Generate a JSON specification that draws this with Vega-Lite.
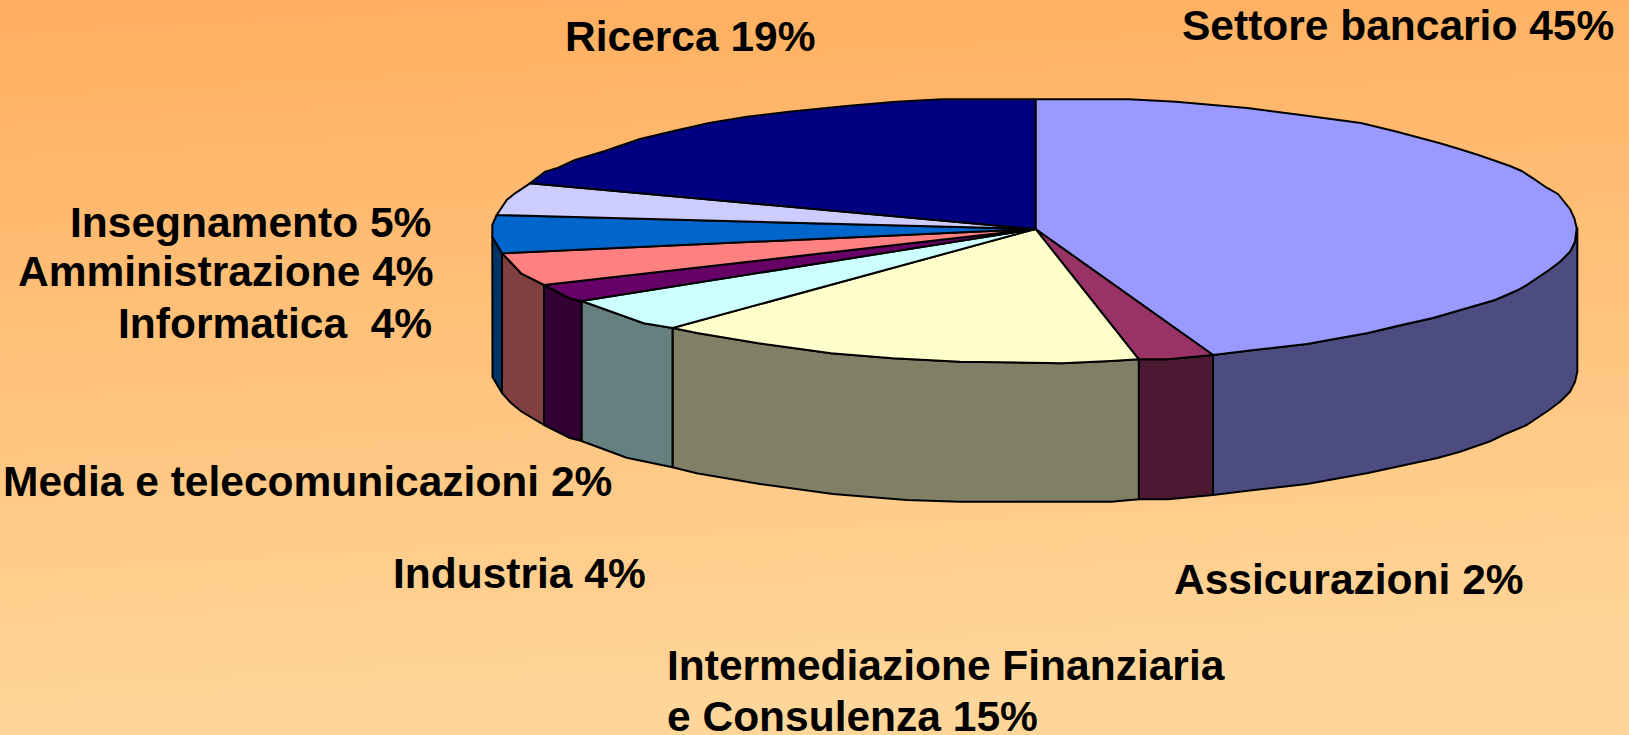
{"$schema":"https://vega.github.io/schema/vega-lite/v6.json","width":1629,"height":735,"padding":0,"autosize":{"type":"none"},"background":"#FFC27F","view":{"stroke":null,"fill":{"gradient":"linear","x1":0,"y1":0,"x2":0.12,"y2":1,"stops":[{"offset":0,"color":"#FFAE5E"},{"offset":1,"color":"#FFD699"}]}},
"datasets":{"walls":[
{"part":"Settore bancario lato","seq":1,"x":1213,"y":355},{"part":"Settore bancario lato","seq":2,"x":1254,"y":350},{"part":"Settore bancario lato","seq":3,"x":1307,"y":344},{"part":"Settore bancario lato","seq":4,"x":1368,"y":333},{"part":"Settore bancario lato","seq":5,"x":1433,"y":318},{"part":"Settore bancario lato","seq":6,"x":1495,"y":300},{"part":"Settore bancario lato","seq":7,"x":1518,"y":290},{"part":"Settore bancario lato","seq":8,"x":1526.7,"y":285},{"part":"Settore bancario lato","seq":9,"x":1549,"y":270},{"part":"Settore bancario lato","seq":10,"x":1560,"y":261.7},{"part":"Settore bancario lato","seq":11,"x":1570,"y":251.7},{"part":"Settore bancario lato","seq":12,"x":1575,"y":241.7},{"part":"Settore bancario lato","seq":13,"x":1577.3,"y":228.3},{"part":"Settore bancario lato","seq":14,"x":1577.3,"y":371.7},{"part":"Settore bancario lato","seq":15,"x":1575,"y":381.7},{"part":"Settore bancario lato","seq":16,"x":1570,"y":391.7},{"part":"Settore bancario lato","seq":17,"x":1560,"y":401.7},{"part":"Settore bancario lato","seq":18,"x":1549,"y":410},{"part":"Settore bancario lato","seq":19,"x":1526.7,"y":425},{"part":"Settore bancario lato","seq":20,"x":1503,"y":435},{"part":"Settore bancario lato","seq":21,"x":1491.7,"y":440.7},{"part":"Settore bancario lato","seq":22,"x":1460,"y":451.7},{"part":"Settore bancario lato","seq":23,"x":1437.5,"y":458},{"part":"Settore bancario lato","seq":24,"x":1368,"y":473},{"part":"Settore bancario lato","seq":25,"x":1307,"y":484},{"part":"Settore bancario lato","seq":26,"x":1254,"y":490},{"part":"Settore bancario lato","seq":27,"x":1213,"y":495},{"part":"Settore bancario lato","seq":28,"x":1213,"y":355},
{"part":"Assicurazioni lato","seq":1,"x":1138.8,"y":359.3},{"part":"Assicurazioni lato","seq":2,"x":1168,"y":359.3},{"part":"Assicurazioni lato","seq":3,"x":1213,"y":355},{"part":"Assicurazioni lato","seq":4,"x":1213,"y":495},{"part":"Assicurazioni lato","seq":5,"x":1168,"y":499.3},{"part":"Assicurazioni lato","seq":6,"x":1138.8,"y":499.3},{"part":"Assicurazioni lato","seq":7,"x":1138.8,"y":359.3},
{"part":"Intermediazione lato","seq":1,"x":672.5,"y":328},{"part":"Intermediazione lato","seq":2,"x":697,"y":333},{"part":"Intermediazione lato","seq":3,"x":758.5,"y":343.3},{"part":"Intermediazione lato","seq":4,"x":831,"y":353.3},{"part":"Intermediazione lato","seq":5,"x":892.5,"y":358.3},{"part":"Intermediazione lato","seq":6,"x":960,"y":361.7},{"part":"Intermediazione lato","seq":7,"x":1001,"y":362.3},{"part":"Intermediazione lato","seq":8,"x":1062,"y":363.3},{"part":"Intermediazione lato","seq":9,"x":1111,"y":361},{"part":"Intermediazione lato","seq":10,"x":1138.8,"y":359.3},{"part":"Intermediazione lato","seq":11,"x":1138.8,"y":499.3},{"part":"Intermediazione lato","seq":12,"x":1111,"y":501.7},{"part":"Intermediazione lato","seq":13,"x":960,"y":501.7},{"part":"Intermediazione lato","seq":14,"x":906.7,"y":500},{"part":"Intermediazione lato","seq":15,"x":833,"y":494},{"part":"Intermediazione lato","seq":16,"x":760,"y":484},{"part":"Intermediazione lato","seq":17,"x":696.7,"y":473.3},{"part":"Intermediazione lato","seq":18,"x":672.5,"y":467.3},{"part":"Intermediazione lato","seq":19,"x":672.5,"y":328},
{"part":"Industria lato","seq":1,"x":581.5,"y":301},{"part":"Industria lato","seq":2,"x":627,"y":317.3},{"part":"Industria lato","seq":3,"x":643.7,"y":323.3},{"part":"Industria lato","seq":4,"x":672.5,"y":328},{"part":"Industria lato","seq":5,"x":672.5,"y":467.3},{"part":"Industria lato","seq":6,"x":626.7,"y":457.7},{"part":"Industria lato","seq":7,"x":581.5,"y":441},{"part":"Industria lato","seq":8,"x":581.5,"y":301},
{"part":"Media lato","seq":1,"x":544,"y":285},{"part":"Media lato","seq":2,"x":571,"y":299},{"part":"Media lato","seq":3,"x":581.5,"y":301},{"part":"Media lato","seq":4,"x":581.5,"y":441},{"part":"Media lato","seq":5,"x":570,"y":438},{"part":"Media lato","seq":6,"x":544,"y":425},{"part":"Media lato","seq":7,"x":544,"y":285},
{"part":"Informatica lato","seq":1,"x":502,"y":253.3},{"part":"Informatica lato","seq":2,"x":511.7,"y":263.3},{"part":"Informatica lato","seq":3,"x":521,"y":273.3},{"part":"Informatica lato","seq":4,"x":544,"y":285},{"part":"Informatica lato","seq":5,"x":544,"y":425},{"part":"Informatica lato","seq":6,"x":521.7,"y":411.7},{"part":"Informatica lato","seq":7,"x":511,"y":403},{"part":"Informatica lato","seq":8,"x":502,"y":393},{"part":"Informatica lato","seq":9,"x":502,"y":253.3},
{"part":"Amministrazione lato","seq":1,"x":492.3,"y":236.7},{"part":"Amministrazione lato","seq":2,"x":502,"y":253.3},{"part":"Amministrazione lato","seq":3,"x":502,"y":393},{"part":"Amministrazione lato","seq":4,"x":492.5,"y":377},{"part":"Amministrazione lato","seq":5,"x":492.3,"y":236.7}
],
"tops":[
{"part":"Settore bancario","seq":1,"x":1035.5,"y":229},{"part":"Settore bancario","seq":2,"x":1035.5,"y":99.3},{"part":"Settore bancario","seq":3,"x":1129,"y":99.3},{"part":"Settore bancario","seq":4,"x":1176,"y":101.7},{"part":"Settore bancario","seq":5,"x":1247,"y":108},{"part":"Settore bancario","seq":6,"x":1301,"y":115},{"part":"Settore bancario","seq":7,"x":1361,"y":123},{"part":"Settore bancario","seq":8,"x":1397,"y":131.7},{"part":"Settore bancario","seq":9,"x":1440,"y":143.3},{"part":"Settore bancario","seq":10,"x":1460,"y":149.3},{"part":"Settore bancario","seq":11,"x":1478.3,"y":155},{"part":"Settore bancario","seq":12,"x":1490,"y":159},{"part":"Settore bancario","seq":13,"x":1510,"y":166},{"part":"Settore bancario","seq":14,"x":1521.7,"y":171},{"part":"Settore bancario","seq":15,"x":1533,"y":178.3},{"part":"Settore bancario","seq":16,"x":1546.7,"y":187.7},{"part":"Settore bancario","seq":17,"x":1558,"y":194},{"part":"Settore bancario","seq":18,"x":1570,"y":209},{"part":"Settore bancario","seq":19,"x":1574.3,"y":218.3},{"part":"Settore bancario","seq":20,"x":1576.7,"y":228.3},{"part":"Settore bancario","seq":21,"x":1575,"y":241.7},{"part":"Settore bancario","seq":22,"x":1570,"y":251.7},{"part":"Settore bancario","seq":23,"x":1560,"y":261.7},{"part":"Settore bancario","seq":24,"x":1549,"y":270},{"part":"Settore bancario","seq":25,"x":1526.7,"y":285},{"part":"Settore bancario","seq":26,"x":1518,"y":290},{"part":"Settore bancario","seq":27,"x":1495,"y":300},{"part":"Settore bancario","seq":28,"x":1433,"y":318},{"part":"Settore bancario","seq":29,"x":1397,"y":326},{"part":"Settore bancario","seq":30,"x":1368,"y":333},{"part":"Settore bancario","seq":31,"x":1329,"y":340},{"part":"Settore bancario","seq":32,"x":1307,"y":344},{"part":"Settore bancario","seq":33,"x":1254,"y":350},{"part":"Settore bancario","seq":34,"x":1213,"y":355},{"part":"Settore bancario","seq":35,"x":1035.5,"y":229},
{"part":"Assicurazioni","seq":1,"x":1035.5,"y":229},{"part":"Assicurazioni","seq":2,"x":1213,"y":355},{"part":"Assicurazioni","seq":3,"x":1168,"y":359.3},{"part":"Assicurazioni","seq":4,"x":1138.8,"y":359.3},{"part":"Assicurazioni","seq":5,"x":1035.5,"y":229},
{"part":"Intermediazione","seq":1,"x":1035.5,"y":229},{"part":"Intermediazione","seq":2,"x":1138.8,"y":359.3},{"part":"Intermediazione","seq":3,"x":1111,"y":361},{"part":"Intermediazione","seq":4,"x":1062,"y":363.3},{"part":"Intermediazione","seq":5,"x":1001,"y":362.3},{"part":"Intermediazione","seq":6,"x":960,"y":361.7},{"part":"Intermediazione","seq":7,"x":892.5,"y":358.3},{"part":"Intermediazione","seq":8,"x":831,"y":353.3},{"part":"Intermediazione","seq":9,"x":758.5,"y":343.3},{"part":"Intermediazione","seq":10,"x":697,"y":333},{"part":"Intermediazione","seq":11,"x":672.5,"y":328},{"part":"Intermediazione","seq":12,"x":1035.5,"y":229},
{"part":"Industria","seq":1,"x":1035.5,"y":229},{"part":"Industria","seq":2,"x":672.5,"y":328},{"part":"Industria","seq":3,"x":643.7,"y":323.3},{"part":"Industria","seq":4,"x":627,"y":317.3},{"part":"Industria","seq":5,"x":581.5,"y":301},{"part":"Industria","seq":6,"x":1035.5,"y":229},
{"part":"Media","seq":1,"x":1035.5,"y":229},{"part":"Media","seq":2,"x":581.5,"y":301},{"part":"Media","seq":3,"x":571,"y":299},{"part":"Media","seq":4,"x":544,"y":285},{"part":"Media","seq":5,"x":1035.5,"y":229},
{"part":"Informatica","seq":1,"x":1035.5,"y":229},{"part":"Informatica","seq":2,"x":544,"y":285},{"part":"Informatica","seq":3,"x":521,"y":273.3},{"part":"Informatica","seq":4,"x":511.7,"y":263.3},{"part":"Informatica","seq":5,"x":502,"y":253.3},{"part":"Informatica","seq":6,"x":1035.5,"y":229},
{"part":"Amministrazione","seq":1,"x":1035.5,"y":229},{"part":"Amministrazione","seq":2,"x":502,"y":253.3},{"part":"Amministrazione","seq":3,"x":492.3,"y":236.7},{"part":"Amministrazione","seq":4,"x":492.3,"y":225},{"part":"Amministrazione","seq":5,"x":496.7,"y":215},{"part":"Amministrazione","seq":6,"x":1035.5,"y":229},
{"part":"Insegnamento","seq":1,"x":1035.5,"y":229},{"part":"Insegnamento","seq":2,"x":496.7,"y":215},{"part":"Insegnamento","seq":3,"x":506.7,"y":200},{"part":"Insegnamento","seq":4,"x":515,"y":193.3},{"part":"Insegnamento","seq":5,"x":530,"y":183.3},{"part":"Insegnamento","seq":6,"x":1035.5,"y":229},
{"part":"Ricerca","seq":1,"x":1035.5,"y":229},{"part":"Ricerca","seq":2,"x":530,"y":183.3},{"part":"Ricerca","seq":3,"x":545,"y":171.7},{"part":"Ricerca","seq":4,"x":556.7,"y":168.3},{"part":"Ricerca","seq":5,"x":575,"y":160},{"part":"Ricerca","seq":6,"x":605,"y":151},{"part":"Ricerca","seq":7,"x":640,"y":139},{"part":"Ricerca","seq":8,"x":670.5,"y":131.7},{"part":"Ricerca","seq":9,"x":709,"y":123},{"part":"Ricerca","seq":10,"x":747,"y":116.7},{"part":"Ricerca","seq":11,"x":789,"y":111.7},{"part":"Ricerca","seq":12,"x":846.5,"y":106},{"part":"Ricerca","seq":13,"x":896,"y":101.7},{"part":"Ricerca","seq":14,"x":942,"y":99.3},{"part":"Ricerca","seq":15,"x":1035.5,"y":99.3},{"part":"Ricerca","seq":16,"x":1035.5,"y":229}
],
"labels":[
{"label":"Ricerca 19%","x":565,"y":51},
{"label":"Settore bancario 45%","x":1182,"y":39.5},
{"label":"Insegnamento 5%","x":70,"y":237},
{"label":"Amministrazione 4%","x":18,"y":286},
{"label":"Informatica\u00a0 4%","x":118,"y":338},
{"label":"Media e telecomunicazioni 2%","x":3,"y":496},
{"label":"Industria 4%","x":393,"y":588},
{"label":"Assicurazioni 2%","x":1174,"y":594},
{"label":"Intermediazione Finanziaria","x":667,"y":680},
{"label":"e Consulenza 15%","x":667,"y":730.5}
]},
"encoding":{"x":{"field":"x","type":"quantitative","axis":null,"scale":{"domain":[0,1629],"nice":false,"zero":false}},"y":{"field":"y","type":"quantitative","axis":null,"scale":{"domain":[735,0],"nice":false,"zero":false}}},
"layer":[
{"data":{"name":"walls"},"mark":{"type":"line","stroke":"#000000","strokeWidth":2,"strokeJoin":"round","clip":false},"encoding":{"order":{"field":"seq","type":"quantitative"},"fill":{"field":"part","type":"nominal","legend":null,"scale":{"domain":["Settore bancario lato","Assicurazioni lato","Intermediazione lato","Industria lato","Media lato","Informatica lato","Amministrazione lato","Settore bancario","Assicurazioni","Intermediazione","Industria","Media","Informatica","Amministrazione","Insegnamento","Ricerca"],"range":["#4C4C80","#4C1933","#808066","#668080","#330033","#804040","#003366","#9999FF","#993366","#FFFFCC","#CCFFFF","#660066","#FF8080","#0066CC","#CCCCFF","#000080"]}}}},
{"data":{"name":"tops"},"mark":{"type":"line","stroke":"#000000","strokeWidth":2,"strokeJoin":"round","clip":false},"encoding":{"order":{"field":"seq","type":"quantitative"},"fill":{"field":"part","type":"nominal","legend":null}}},
{"data":{"name":"labels"},"mark":{"type":"text","align":"left","baseline":"alphabetic","font":"Liberation Sans","fontWeight":"bold","fontSize":42.5,"color":"#000000"},"encoding":{"text":{"field":"label","type":"nominal"}}}
]}
